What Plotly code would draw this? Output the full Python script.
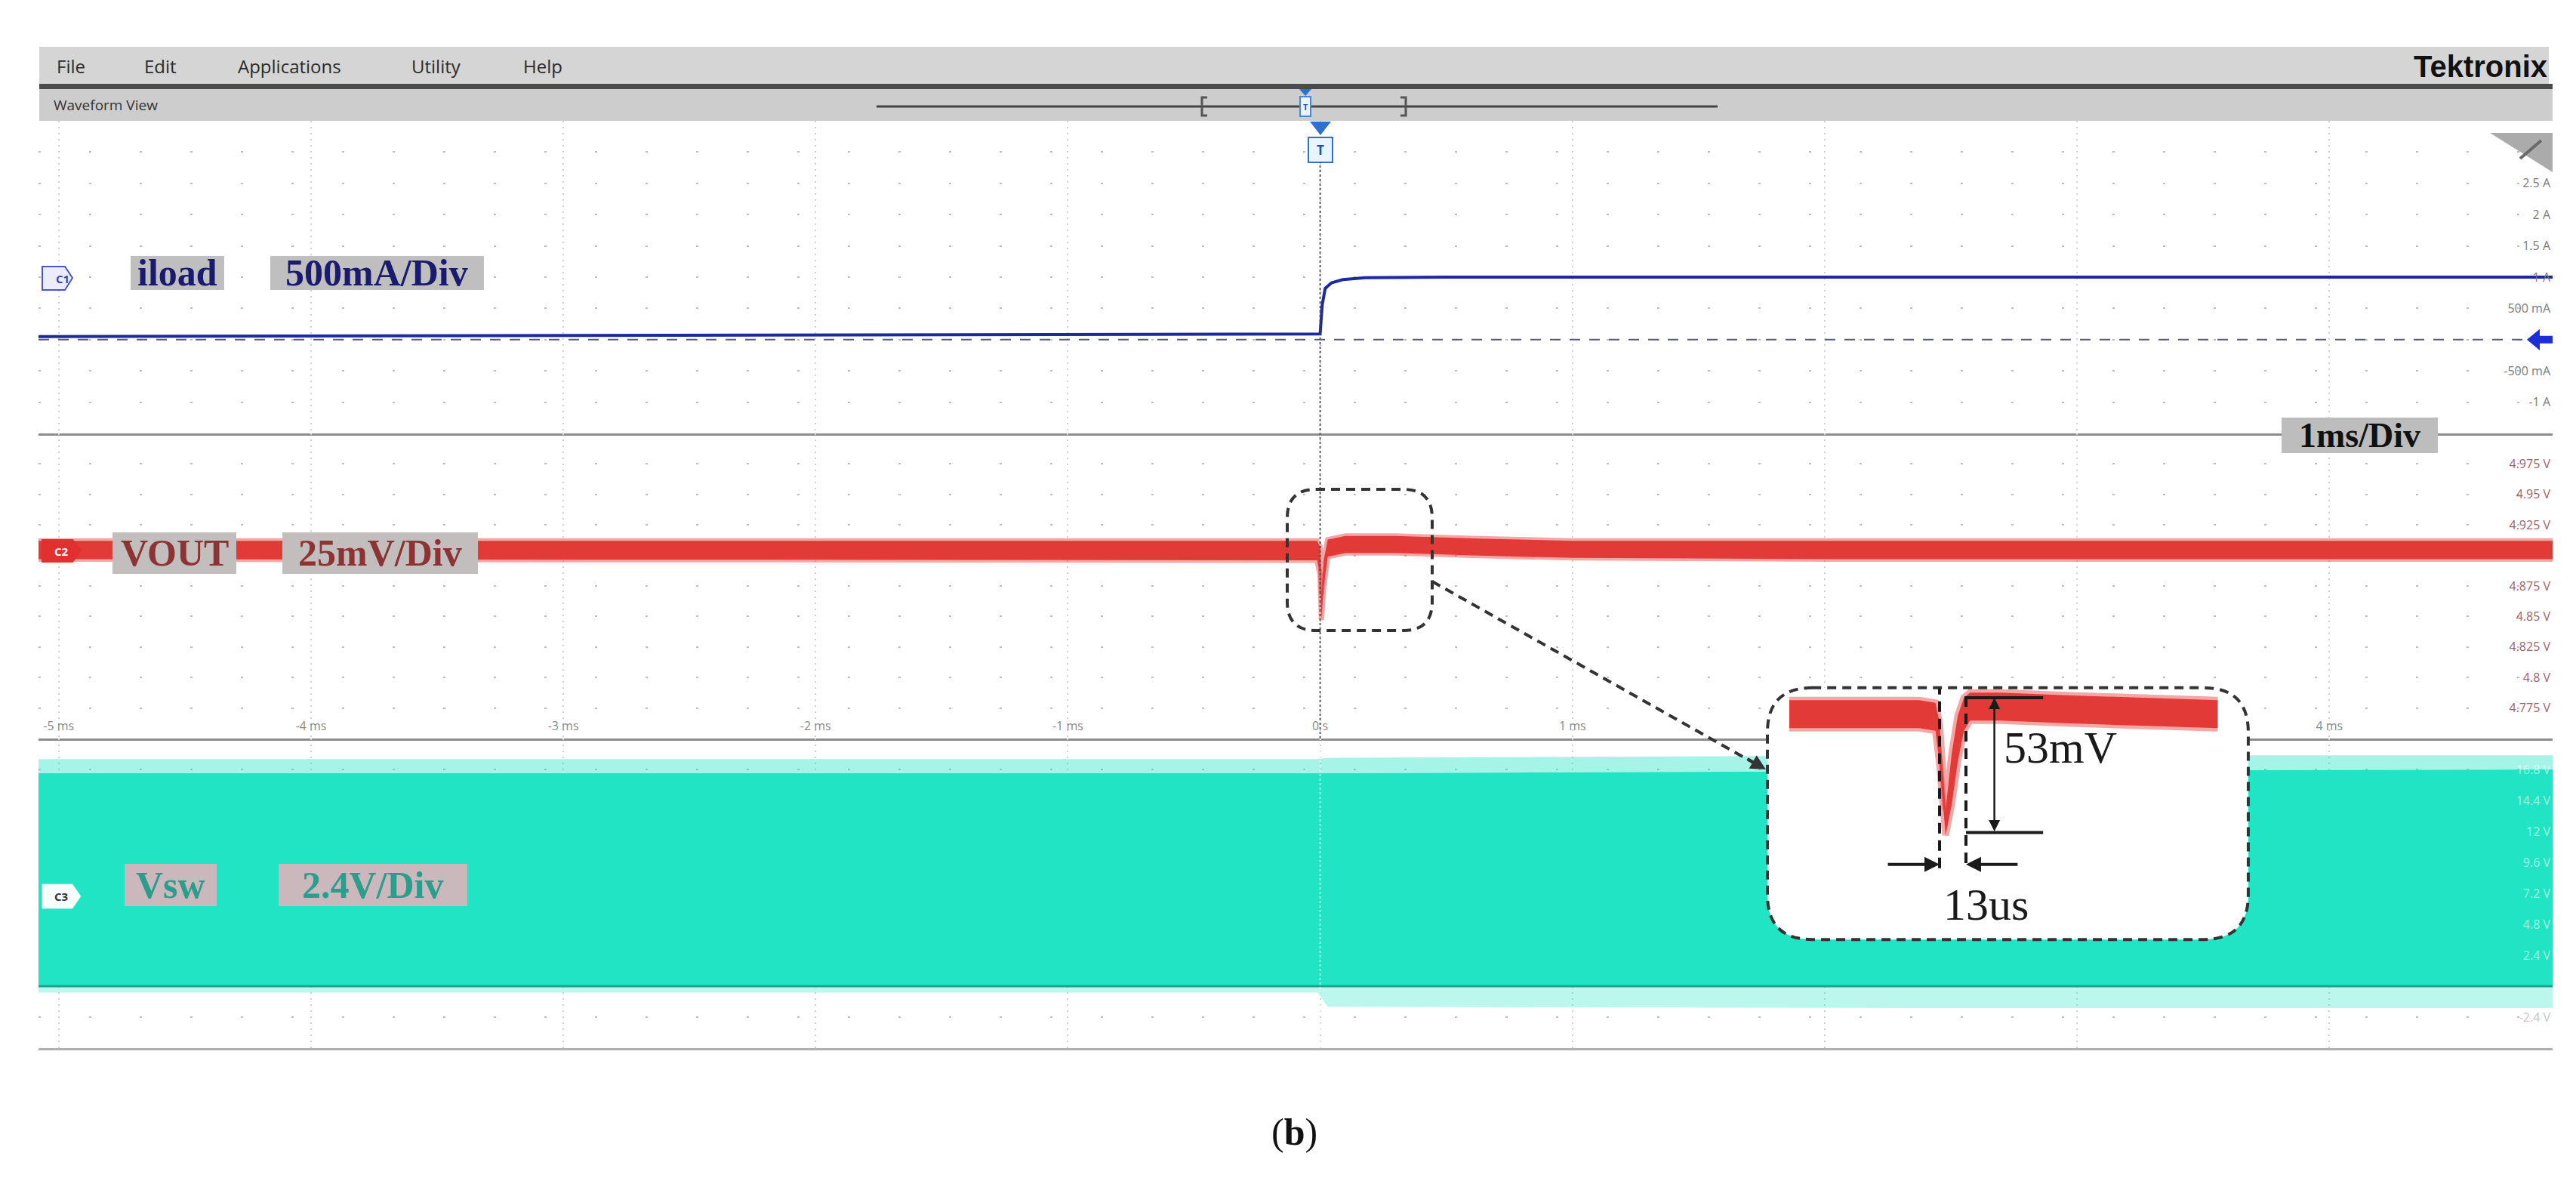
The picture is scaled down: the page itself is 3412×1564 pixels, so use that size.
import plotly.graph_objects as go

W, H = 3412, 1564

# ---------------- data ----------------
X_RANGE_MS = [-5.08, 4.885]
TIME_TICKS_MS = [-5, -4, -3, -2, -1, 0, 1, 2, 3, 4]
# 2 ms and 3 ms are hidden behind the zoom inset in the reference
TIME_TICK_TEXT = ["-5 ms", "-4 ms", "-3 ms", "-2 ms", "-1 ms", "0 s", "1 ms", "", "", "4 ms"]

# C1 : load current (A)
ILOAD_RANGE = [-1.5, 3.5]
ILOAD_TICKS = [-1.5, -1.0, -0.5, 0.0, 0.5, 1.0, 1.5, 2.0, 2.5, 3.0, 3.5]
ILOAD_TICK_TEXT = ["", "-1 A", "-500 mA", "", "500 mA", "1 A", "1.5 A", "2 A", "2.5 A", "", ""]
ILOAD_T = [-5.08, -2.5, -0.01, 0.0, 0.008, 0.02, 0.045, 0.09, 0.18, 0.5, 2.0, 4.885]
ILOAD_A = [0.05, 0.065, 0.08, 0.09, 0.55, 0.82, 0.91, 0.96, 0.99, 1.0, 1.0, 1.0]

# C2 : output voltage (V) - noise envelope
VOUT_RANGE = [4.75, 5.0]
VOUT_TICKS = [4.75, 4.775, 4.8, 4.825, 4.85, 4.875, 4.9, 4.925, 4.95, 4.975, 5.0]
VOUT_TICK_TEXT = ["", "4.775 V", "4.8 V", "4.825 V", "4.85 V", "4.875 V", "", "4.925 V", "4.95 V", "4.975 V", ""]
VOUT_T = [-5.08, -3.0, -1.0, -0.012, 0.0, 0.005, 0.014, 0.03, 0.1, 0.3, 0.6, 1.0, 2.0, 3.5, 4.885]
VOUT_LO = [4.897, 4.897, 4.897, 4.896, 4.884, 4.847, 4.874, 4.899, 4.902, 4.902, 4.900, 4.898, 4.897, 4.897, 4.897]
VOUT_HI = [4.912, 4.912, 4.912, 4.912, 4.907, 4.868, 4.896, 4.913, 4.916, 4.916, 4.914, 4.912, 4.912, 4.912, 4.912]

# C3 : switching node (V) - aliased envelope
VSW_RANGE = [-4.8, 19.2]
VSW_TICKS = [-4.8, -2.4, 0.0, 2.4, 4.8, 7.2, 9.6, 12.0, 14.4, 16.8, 19.2]
VSW_TICK_TEXT = ["", "<span style='color:#9a9a9a'>-2.4 V</span>", "", "2.4 V", "4.8 V", "7.2 V",
                 "9.6 V", "12 V", "14.4 V", "16.8 V", ""]
VSW_T = [-5.08, -0.01, 0.03, 2.6, 4.885]
VSW_LO = [0.0, 0.0, 0.0, 0.0, 0.0]
VSW_HI = [16.5, 16.5, 16.5, 16.7, 16.8]
VSW_PEAK = [17.6, 17.6, 17.7, 17.9, 17.9]
VSW_DIP = [-0.5, -0.5, -1.6, -1.7, -1.7]

# zoomed inset of the VOUT dip (time in microseconds)
INSET_T_RANGE = [-87.0, 154.3]
INSET_V_RANGE = [4.8133, 4.9156]
INSET_T_US = [-74, -40, -10, -2, 0, 3, 6, 9, 12, 15, 30, 60, 100, 137]
INSET_LO = [4.898, 4.898, 4.898, 4.897, 4.884, 4.856, 4.868, 4.885, 4.897, 4.901, 4.901, 4.900, 4.899, 4.898]
INSET_HI = [4.909, 4.909, 4.909, 4.908, 4.900, 4.866, 4.888, 4.903, 4.910, 4.912, 4.912, 4.911, 4.910, 4.909]
DIP_START_US = 0.0
DIP_WIDTH_US = 13.0
DIP_TOP_V = 4.910
DIP_DEPTH_V = 0.053

# ---------------- helpers (pixel -> paper) ----------------
def px(x):
    return x / W


def py(y):
    return 1 - y / H


def rect(x0, y0, x1, y1, fill, lw=0, lc="rgba(0,0,0,0)", dash="solid"):
    return dict(type="rect", xref="paper", yref="paper", x0=px(x0), x1=px(x1), y0=py(y1), y1=py(y0),
                fillcolor=fill, line=dict(width=lw, color=lc, dash=dash), layer="above")


def poly(points, fill, lw=0, lc="rgba(0,0,0,0)", close=True):
    d = "M " + " L ".join(f"{px(a):.5f},{py(b):.5f}" for a, b in points) + (" Z" if close else "")
    return dict(type="path", xref="paper", yref="paper", path=d, fillcolor=fill,
                line=dict(width=lw, color=lc), layer="above")


def rrect_path(x0, y0, x1, y1, r):
    P = lambda a, b: f"{px(a):.5f},{py(b):.5f}"
    return (f"M {P(x0 + r, y0)} L {P(x1 - r, y0)} Q {P(x1, y0)} {P(x1, y0 + r)} "
            f"L {P(x1, y1 - r)} Q {P(x1, y1)} {P(x1 - r, y1)} L {P(x0 + r, y1)} "
            f"Q {P(x0, y1)} {P(x0, y1 - r)} L {P(x0, y0 + r)} Q {P(x0, y0)} {P(x0 + r, y0)} Z")


def text(x, y, s, size, color, family="Open Sans", xanchor="left", bold=False):
    return dict(xref="paper", yref="paper", x=px(x), y=py(y), text=(f"<b>{s}</b>" if bold else s),
                showarrow=False, xanchor=xanchor, yanchor="middle",
                font=dict(family=family, size=size, color=color))


X0, X1 = 43, 3373
P1, P2, P3, P4 = 152, 566, 970, 1380
XDOM = [px(X0), px(X1)]

fig = go.Figure()

RED = "#e23a36"
TEAL = "#20e4c3"

# C3 switching node
fig.add_trace(go.Scatter(x=VSW_T, y=VSW_DIP, mode="lines", line=dict(width=0), xaxis="x3", yaxis="y3",
                         hoverinfo="skip"))
fig.add_trace(go.Scatter(x=VSW_T, y=VSW_LO, mode="lines", line=dict(width=0), fill="tonexty",
                         fillcolor="rgba(32,228,195,0.30)", xaxis="x3", yaxis="y3", hoverinfo="skip"))
fig.add_trace(go.Scatter(x=VSW_T, y=VSW_HI, mode="lines", line=dict(width=0), fill="tonexty",
                         fillcolor=TEAL, xaxis="x3", yaxis="y3", hoverinfo="skip"))
fig.add_trace(go.Scatter(x=VSW_T, y=VSW_PEAK, mode="lines", line=dict(width=0), fill="tonexty",
                         fillcolor="rgba(32,228,195,0.40)", xaxis="x3", yaxis="y3", hoverinfo="skip"))
fig.add_trace(go.Scatter(x=VSW_T, y=VSW_LO, mode="lines", line=dict(width=3, color="#17a58d"),
                         xaxis="x3", yaxis="y3", hoverinfo="skip"))

# C2 output voltage
fig.add_trace(go.Scatter(x=VOUT_T, y=VOUT_LO, mode="lines", line=dict(width=7, color="rgba(228,60,60,0.45)"),
                         xaxis="x2", yaxis="y2", hoverinfo="skip"))
fig.add_trace(go.Scatter(x=VOUT_T, y=VOUT_HI, mode="lines", line=dict(width=7, color="rgba(228,60,60,0.45)"),
                         fill="tonexty", fillcolor=RED, xaxis="x2", yaxis="y2", hoverinfo="skip"))

# C1 load current
fig.add_trace(go.Scatter(x=ILOAD_T, y=ILOAD_A, mode="lines", line=dict(width=4, color="#1c2a9c"),
                         xaxis="x", yaxis="y", hoverinfo="skip"))

# inset
fig.add_trace(go.Scatter(x=INSET_T_US, y=INSET_LO, mode="lines", line=dict(width=9, color="rgba(228,60,60,0.45)"),
                         xaxis="x4", yaxis="y4", hoverinfo="skip"))
fig.add_trace(go.Scatter(x=INSET_T_US, y=INSET_HI, mode="lines", line=dict(width=9, color="rgba(228,60,60,0.45)"),
                         fill="tonexty", fillcolor=RED, xaxis="x4", yaxis="y4", hoverinfo="skip"))

# ---------------- axes ----------------
xcommon = dict(domain=XDOM, range=X_RANGE_MS, tickvals=TIME_TICKS_MS, showgrid=True, gridcolor="#cfcfcf",
               griddash="2px,6px", gridwidth=2, zeroline=False, showline=True, linecolor="#8c8c8c",
               linewidth=3, ticks="", fixedrange=True)
ycommon = dict(side="right", ticklabelposition="inside", showgrid=True, gridcolor="#bdbdbd",
               griddash="3px,64px", gridwidth=2, zeroline=False, showline=False, ticks="", fixedrange=True)

layout = dict(
    width=W, height=H, margin=dict(l=0, r=0, t=0, b=0), paper_bgcolor="white", plot_bgcolor="rgba(0,0,0,0)",
    showlegend=False,
    xaxis=dict(xcommon, anchor="y", showticklabels=False),
    xaxis2=dict(xcommon, anchor="y2", showticklabels=True, ticktext=TIME_TICK_TEXT,
                ticklabelposition="inside", ticklabelstandoff=8,
                tickfont=dict(family="Open Sans", size=16, color="#8a8a8a")),
    xaxis3=dict(xcommon, anchor="y3", showticklabels=False, linecolor="#b0b0b0"),
    yaxis=dict(ycommon, anchor="x", domain=[py(P2), py(P1)], range=ILOAD_RANGE, tickvals=ILOAD_TICKS,
               ticktext=ILOAD_TICK_TEXT, tickfont=dict(family="Open Sans", size=16, color="#7a7a7a")),
    yaxis2=dict(ycommon, anchor="x2", domain=[py(P3), py(P2)], range=VOUT_RANGE, tickvals=VOUT_TICKS,
                ticktext=VOUT_TICK_TEXT, tickfont=dict(family="Open Sans", size=16, color="#a0606e")),
    yaxis3=dict(ycommon, anchor="x3", domain=[py(P4), py(P3)], range=VSW_RANGE, tickvals=VSW_TICKS,
                ticktext=VSW_TICK_TEXT, tickfont=dict(family="Open Sans", size=16, color="rgba(255,255,255,0.6)")),
    xaxis4=dict(domain=[px(2327), px(2976)], range=INSET_T_RANGE, anchor="y4", visible=False, fixedrange=True),
    yaxis4=dict(domain=[py(1242), py(897)], range=INSET_V_RANGE, anchor="x4", visible=False, fixedrange=True),
)
fig.update_layout(layout)

shapes = []
# menu bar, separator, waveform-view bar
shapes.append(rect(44, 54, 3368, 104, "#d5d5d5"))
shapes.append(rect(44, 103, 3373, 110, "#4a4a4a"))
shapes.append(rect(44, 110, 3373, 152, "#cdcdcd"))
shapes.append(dict(type="line", xref="paper", yref="paper", x0=px(1153), x1=px(2267), y0=py(133), y1=py(133),
                   line=dict(color="#444", width=3), layer="above"))
shapes.append(poly([(1591, 121), (1584, 121), (1584, 145), (1591, 145)], "rgba(0,0,0,0)", 3, "#555", close=False))
shapes.append(poly([(1847, 121), (1854, 121), (1854, 145), (1847, 145)], "rgba(0,0,0,0)", 3, "#555", close=False))
shapes.append(poly([(1713, 110), (1729, 110), (1721, 119)], "#2f6fcf"))
shapes.append(rect(1714, 120, 1728, 146, "#e8f4ff", 2, "#4a86d8"))
# trigger marker in plot
shapes.append(poly([(1727, 153), (1755, 153), (1741, 171)], "#2f6fcf"))
shapes.append(rect(1725, 174, 1757, 207, "#e8f4ff", 2, "#2f6fcf"))
# wrench corner
shapes.append(poly([(3290, 168), (3373, 168), (3373, 220)], "#ababab"))
shapes.append(dict(type="line", xref="paper", yref="paper", x0=px(3330), x1=px(3358), y0=py(202), y1=py(178),
                   line=dict(color="#6a6a6a", width=4), layer="above"))
# trigger dotted line
shapes.append(dict(type="line", xref="x", yref="paper", x0=0, x1=0, y0=py(P3), y1=py(207),
                   line=dict(color="rgba(70,70,70,0.85)", width=2, dash="dot"), layer="above"))
shapes.append(dict(type="line", xref="x3", yref="paper", x0=0, x1=0, y0=py(P4), y1=py(P3),
                   line=dict(color="rgba(255,255,255,0.55)", width=2, dash="dot"), layer="above"))
# C1 ground reference dashed line and offset arrow
shapes.append(dict(type="line", xref="paper", yref="y", x0=XDOM[0], x1=XDOM[1], y0=0, y1=0,
                   line=dict(color="#5a5a78", width=2, dash="14px,12px"), layer="above"))
ah, sh = 0.17, 0.06
shapes.append(dict(type="path", xref="paper", yref="y",
                   path=(f"M {px(3339):.5f},0 L {px(3356):.5f},{ah} L {px(3356):.5f},{sh} L {px(3373):.5f},{sh} "
                         f"L {px(3373):.5f},{-sh} L {px(3356):.5f},{-sh} L {px(3356):.5f},{-ah} Z"),
                   fillcolor="#1d2fd0", line=dict(width=0), layer="above"))
# channel badges
shapes.append(poly([(48, 345), (78, 345), (88, 360), (78, 376), (48, 376)], "#ececff", 2, "#4a55c8"))
shapes.append(poly([(48, 707), (88, 707), (99, 721), (88, 736), (48, 736)], "#e23030", 2, "#e23030"))
shapes.append(poly([(48, 1163), (88, 1163), (99, 1179), (88, 1195), (48, 1195)], "#f6fffd", 1, "#d0f0ea"))
# label boxes
shapes.append(rect(165, 331, 289, 376, "#bfbfbf"))
shapes.append(rect(350, 331, 633, 376, "#bfbfbf"))
shapes.append(rect(141, 697, 305, 752, "#c2bebe"))
shapes.append(rect(366, 697, 625, 752, "#c2bebe"))
shapes.append(rect(157, 1136, 279, 1192, "#cab8bc"))
shapes.append(rect(361, 1136, 611, 1192, "#cab8bc"))
shapes.append(rect(3014, 545, 3221, 592, "#bdbdbd"))
# dashed box around the dip and dashed pointer
shapes.append(dict(type="path", xref="paper", yref="paper", path=rrect_path(1697, 640, 1889, 827, 38),
                   line=dict(color="#333", width=4, dash="12px,8px"), fillcolor="rgba(0,0,0,0)", layer="above"))
shapes.append(dict(type="line", xref="paper", yref="paper", x0=px(1889), y0=py(762), x1=px(2325), y1=py(1008),
                   line=dict(color="#333", width=4, dash="12px,8px"), layer="above"))

# inset frame (below traces of the inset subplot)
tx0, tx1 = -84.76, 152.04
vy0, vy1 = 4.81504, 4.91386
rx, ry = 22.0, 0.0175
ip = (f"M {tx0 + rx},{vy1} L {tx1 - rx},{vy1} Q {tx1},{vy1} {tx1},{vy1 - ry} L {tx1},{vy0 + ry} "
      f"Q {tx1},{vy0} {tx1 - rx},{vy0} L {tx0 + rx},{vy0} Q {tx0},{vy0} {tx0},{vy0 + ry} L {tx0},{vy1 - ry} "
      f"Q {tx0},{vy1} {tx0 + rx},{vy1} Z")
shapes.append(dict(type="path", xref="x4", yref="y4", path=ip, fillcolor="white",
                   line=dict(color="#333", width=4, dash="12px,8px"), layer="below"))
# inset measurement markers
mk = dict(color="#1a1a1a", width=4, dash="14px,9px")
shapes.append(dict(type="line", xref="x4", yref="y4", x0=DIP_START_US, x1=DIP_START_US, y0=4.8430, y1=4.9135,
                   line=mk, layer="above"))
shapes.append(dict(type="line", xref="x4", yref="y4", x0=DIP_WIDTH_US, x1=DIP_WIDTH_US, y0=4.8450, y1=4.9125,
                   line=mk, layer="above"))
shapes.append(dict(type="line", xref="x4", yref="y4", x0=DIP_WIDTH_US, x1=DIP_WIDTH_US + 38, y0=DIP_TOP_V,
                   y1=DIP_TOP_V, line=dict(color="#1a1a1a", width=4), layer="above"))
shapes.append(dict(type="line", xref="x4", yref="y4", x0=DIP_WIDTH_US, x1=DIP_WIDTH_US + 38,
                   y0=DIP_TOP_V - DIP_DEPTH_V, y1=DIP_TOP_V - DIP_DEPTH_V,
                   line=dict(color="#1a1a1a", width=4), layer="above"))
fig.update_layout(shapes=shapes)

ann = []
menu = [("File", 65), ("Edit", 181), ("Applications", 305), ("Utility", 535), ("Help", 683)]
for s, x in menu:
    ann.append(text(x, 80, s, 24, "#2a2a2a"))
ann.append(dict(xref="paper", yref="paper", x=px(3368), y=py(80), text="<b>Tektronix</b>", showarrow=False,
                xanchor="right", yanchor="middle", font=dict(family="Liberation Sans", size=40, color="#111")))
ann.append(text(61, 131, "Waveform View", 19, "#333"))
ann.append(text(1741, 190, "T", 17, "#1d4fb0", xanchor="center", bold=True))
ann.append(text(1721, 133, "T", 11, "#1d4fb0", xanchor="center", bold=True))
ann.append(text(64, 361, "C1", 15, "#3a45b8", bold=True))
ann.append(text(62, 722, "C2", 15, "white", bold=True))
ann.append(text(62, 1179, "C3", 15, "#333", bold=True))
serif = "Liberation Serif"
ann.append(text(227, 353, "iload", 50, "#1b1b6e", serif, "center", True))
ann.append(text(491, 353, "500mA/Div", 50, "#1b1b6e", serif, "center", True))
ann.append(text(223, 724, "VOUT", 50, "#8c3434", serif, "center", True))
ann.append(text(495, 724, "25mV/Div", 50, "#8c3434", serif, "center", True))
ann.append(text(218, 1164, "Vsw", 50, "#2a9d8c", serif, "center", True))
ann.append(text(486, 1164, "2.4V/Div", 50, "#2a9d8c", serif, "center", True))
ann.append(text(3117, 568, "1ms/Div", 46, "#111", serif, "center", True))
ann.append(text(1706, 1491, "(<b>b</b>)", 50, "#111", serif, "center"))
# dashed pointer head
ann.append(dict(xref="paper", yref="paper", x=px(2331), y=py(1011), ax=-26, ay=-15, text="", showarrow=True,
                arrowhead=2, arrowsize=1, arrowwidth=4, arrowcolor="#333"))
# inset arrows and labels
ia = dict(xref="x4", yref="y4", axref="x4", ayref="y4", text="", showarrow=True, arrowcolor="#1a1a1a")
ann.append(dict(ia, x=DIP_WIDTH_US + 14, y=DIP_TOP_V, ax=DIP_WIDTH_US + 14, ay=DIP_TOP_V - DIP_DEPTH_V,
                arrowside="end+start", arrowhead=2, arrowsize=1.2, arrowwidth=2.5))
ann.append(dict(ia, x=DIP_START_US, y=4.8445, ax=DIP_START_US - 26, ay=4.8445, arrowhead=2, arrowsize=1,
                arrowwidth=4))
ann.append(dict(ia, x=DIP_WIDTH_US, y=4.8445, ax=DIP_WIDTH_US + 26, ay=4.8445, arrowhead=2, arrowsize=1,
                arrowwidth=4))
ann.append(dict(xref="x4", yref="y4", x=31, y=4.8905, text=f"{DIP_DEPTH_V * 1000:.0f}mV", showarrow=False,
                xanchor="left", yanchor="middle", font=dict(family=serif, size=60, color="#1a1a1a")))
ann.append(dict(xref="x4", yref="y4", x=23, y=4.8287, text=f"{DIP_WIDTH_US:.0f}us", showarrow=False,
                xanchor="center", yanchor="middle", font=dict(family=serif, size=60, color="#1a1a1a")))
fig.update_layout(annotations=ann)

fig.write_html("out.html")
